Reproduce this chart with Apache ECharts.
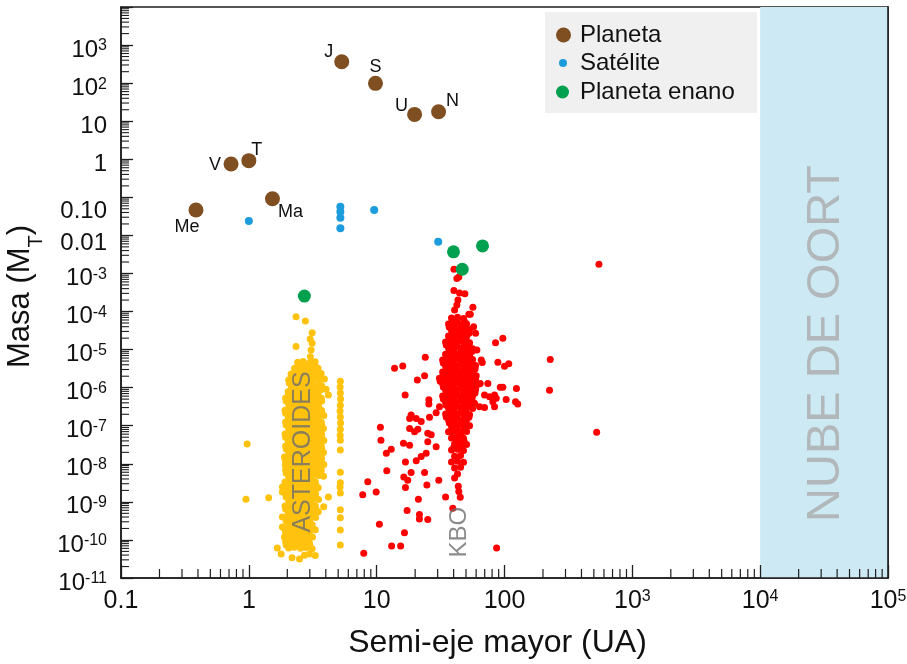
<!DOCTYPE html>
<html>
<head>
<meta charset="utf-8">
<script src="https://cdn.jsdelivr.net/npm/echarts@6/dist/echarts.min.js"></script>
<style>
  html, body { margin: 0; padding: 0; background: #ffffff; }
  #chart { width: 907px; height: 664px; }
</style>
</head>
<body>
<div id="chart"></div>
<script>
// Semi-major axis (AU) vs. mass (Earth masses) of Solar System bodies.

// Planets
const planetNames = ['Me', 'V', 'T', 'Ma', 'J', 'S', 'U', 'N'];
const planetA = [0.386, 0.726, 1.0, 1.53, 5.33, 9.79, 19.8, 30.5];
const planetM = [0.0463, 0.75, 0.92, 0.092, 365, 98.8, 15.1, 17.7];

// Satellites: Moon, Galilean moons, Titan, Triton
const satelliteA = [1.0, 5.2, 5.2, 5.2, 5.2, 9.56, 30.3];
const satelliteM = [0.024, 0.057, 0.042, 0.029, 0.0153, 0.0465, 0.0068];

// Dwarf planets: Ceres, Pluto, Haumea, Eris
const dwarfA = [2.72, 39.9, 46.7, 67.3];
const dwarfM = [2.55e-4, 3.7e-3, 1.29e-3, 5.3e-3];

// Asteroids: [semi-major axis (AU), log10 mass (Earth masses)]
const asteroids = [
  [0.97, -7.48], [0.95, -8.93], [1.43, -8.89], [1.67, -10.21], [1.79, -10.37], [2.18, -10.47],
  [2.49, -10.50], [2.72, -10.40], [2.98, -10.37], [3.31, -10.41],
  [2.34, -4.14], [2.77, -4.25], [3.13, -4.56], [3.02, -4.72], [3.13, -4.83], [2.34, -4.92],
  [3.07, -5.01], [3.03, -5.19], [3.90, -5.77], [4.02, -6.04], [4.19, -6.19],
  [1.83, -9.40], [1.83, -9.66], [1.90, -9.92], [1.83, -8.61], [1.83, -8.74], [1.90, -7.82],
  [1.93, -8.03], [1.97, -8.24], [4.19, -8.87], [3.85, -9.13],
  // Jupiter trojans
  [5.2, -5.83], [5.18, -5.98], [5.2, -6.14], [5.22, -6.30], [5.2, -6.46], [5.17, -6.61],
  [5.2, -6.77], [5.22, -6.93], [5.2, -7.09], [5.18, -7.25], [5.2, -7.38], [5.2, -7.64],
  [5.2, -8.22], [5.2, -8.50], [5.17, -8.61], [5.2, -8.77], [5.2, -9.21], [5.2, -9.42],
  [5.2, -9.74], [5.2, -10.13],
  // main belt
  [2.41, -5.33], [2.66, -5.31], [2.99, -5.35], [3.30, -5.32],
  [2.45, -5.41], [2.71, -5.40], [3.02, -5.42], [3.28, -5.41],
  [2.28, -5.49], [2.52, -5.47], [2.83, -5.50], [3.15, -5.46], [3.48, -5.49],
  [2.30, -5.56], [2.55, -5.57], [2.80, -5.55], [3.17, -5.57], [3.46, -5.56],
  [2.14, -5.64], [2.41, -5.62], [2.68, -5.66], [2.97, -5.63], [3.33, -5.65], [3.68, -5.63],
  [2.16, -5.72], [2.43, -5.71], [2.66, -5.73], [2.99, -5.72], [3.30, -5.71], [3.66, -5.73],
  [2.05, -5.80], [2.26, -5.78], [2.54, -5.81], [2.81, -5.79], [3.13, -5.82], [3.51, -5.80],
  [2.07, -5.88], [2.28, -5.87], [2.52, -5.89], [2.84, -5.88], [3.11, -5.87], [3.53, -5.89],
  [2.16, -5.96], [2.39, -5.94], [2.66, -5.97], [2.99, -5.95], [3.31, -5.98], [3.71, -5.95],
  [2.14, -6.04], [2.41, -6.03], [2.69, -6.05], [2.96, -6.04], [3.34, -6.03], [3.69, -6.05],
  [2.03, -6.11], [2.28, -6.13], [2.52, -6.10], [2.83, -6.12], [3.15, -6.11], [3.49, -6.13],
  [2.05, -6.19], [2.26, -6.20], [2.55, -6.18], [2.80, -6.19], [3.17, -6.20], [3.47, -6.19],
  [1.94, -6.27], [2.16, -6.25], [2.41, -6.28], [2.66, -6.26], [2.97, -6.29], [3.33, -6.26], [3.69, -6.28],
  [1.96, -6.35], [2.14, -6.34], [2.43, -6.36], [2.69, -6.35], [2.99, -6.34], [3.30, -6.36], [3.71, -6.35],
  [2.05, -6.43], [2.26, -6.41], [2.54, -6.44], [2.81, -6.42], [3.13, -6.45], [3.51, -6.43],
  [2.07, -6.51], [2.28, -6.50], [2.52, -6.52], [2.84, -6.51], [3.11, -6.50], [3.53, -6.52],
  [1.92, -6.59], [2.16, -6.57], [2.39, -6.60], [2.68, -6.58], [2.99, -6.61], [3.31, -6.58], [3.71, -6.60],
  [1.94, -6.67], [2.14, -6.66], [2.41, -6.68], [2.66, -6.67], [2.96, -6.66], [3.34, -6.68], [3.69, -6.67],
  [2.03, -6.74], [2.28, -6.76], [2.52, -6.73], [2.83, -6.75], [3.15, -6.74], [3.49, -6.76], [3.86, -6.73],
  [2.05, -6.82], [2.26, -6.83], [2.55, -6.81], [2.80, -6.82], [3.17, -6.83], [3.47, -6.82],
  [1.94, -6.90], [2.14, -6.88], [2.41, -6.91], [2.66, -6.89], [2.97, -6.92], [3.33, -6.89], [3.69, -6.91],
  [1.96, -6.98], [2.16, -6.97], [2.39, -6.99], [2.69, -6.98], [2.99, -6.97], [3.30, -6.99], [3.71, -6.98],
  [2.05, -7.06], [2.26, -7.04], [2.54, -7.07], [2.81, -7.05], [3.13, -7.08], [3.51, -7.05], [3.84, -7.07],
  [2.07, -7.14], [2.28, -7.13], [2.52, -7.15], [2.84, -7.14], [3.11, -7.13], [3.53, -7.15],
  [1.92, -7.22], [2.16, -7.20], [2.39, -7.23], [2.68, -7.21], [2.99, -7.24], [3.31, -7.21], [3.71, -7.23],
  [1.94, -7.30], [2.14, -7.29], [2.41, -7.31], [2.66, -7.30], [2.96, -7.29], [3.34, -7.31], [3.69, -7.30],
  [2.03, -7.38], [2.28, -7.36], [2.52, -7.39], [2.83, -7.37], [3.15, -7.40], [3.49, -7.37], [3.86, -7.39],
  [2.05, -7.46], [2.26, -7.47], [2.55, -7.45], [2.80, -7.46], [3.17, -7.47], [3.47, -7.46],
  [1.94, -7.53], [2.14, -7.51], [2.41, -7.54], [2.66, -7.52], [2.97, -7.55], [3.33, -7.52], [3.69, -7.54],
  [1.96, -7.61], [2.16, -7.60], [2.39, -7.62], [2.69, -7.61], [2.99, -7.60], [3.30, -7.62], [3.71, -7.61],
  [2.05, -7.69], [2.26, -7.67], [2.54, -7.70], [2.81, -7.68], [3.13, -7.71], [3.51, -7.68], [3.84, -7.70],
  [2.07, -7.77], [2.28, -7.76], [2.52, -7.78], [2.84, -7.77], [3.11, -7.76], [3.53, -7.78],
  [1.92, -7.85], [2.16, -7.83], [2.39, -7.86], [2.68, -7.84], [2.99, -7.87], [3.31, -7.84], [3.71, -7.86],
  [1.94, -7.93], [2.14, -7.92], [2.41, -7.94], [2.66, -7.93], [2.96, -7.92], [3.34, -7.94],
  [2.03, -8.01], [2.28, -7.99], [2.52, -8.02], [2.83, -8.00], [3.15, -8.03], [3.49, -8.00], [3.86, -8.02],
  [2.05, -8.09], [2.26, -8.10], [2.55, -8.08], [2.80, -8.09], [3.17, -8.10], [3.47, -8.09],
  [1.94, -8.16], [2.14, -8.14], [2.41, -8.17], [2.66, -8.15], [2.97, -8.18], [3.33, -8.15], [3.69, -8.17],
  [1.96, -8.24], [2.16, -8.23], [2.39, -8.25], [2.69, -8.24], [2.99, -8.23], [3.30, -8.25],
  [2.05, -8.32], [2.26, -8.30], [2.54, -8.33], [2.81, -8.31], [3.13, -8.34], [3.51, -8.31], [3.84, -8.33],
  [2.07, -8.40], [2.28, -8.39], [2.52, -8.41], [2.84, -8.40], [3.11, -8.39],
  [1.92, -8.48], [2.16, -8.46], [2.39, -8.49], [2.68, -8.47], [2.99, -8.50], [3.31, -8.47],
  [1.94, -8.56], [2.14, -8.55], [2.41, -8.57], [2.66, -8.56], [2.96, -8.55], [3.34, -8.57],
  [2.03, -8.64], [2.28, -8.62], [2.52, -8.65], [2.83, -8.63], [3.15, -8.66], [3.49, -8.63],
  [2.05, -8.72], [2.26, -8.73], [2.55, -8.71], [2.80, -8.72], [3.17, -8.73],
  [1.94, -8.79], [2.14, -8.77], [2.41, -8.80], [2.66, -8.78], [2.97, -8.81], [3.33, -8.78],
  [1.96, -8.87], [2.16, -8.86], [2.39, -8.88], [2.69, -8.87], [2.99, -8.86], [3.30, -8.88],
  [2.05, -8.95], [2.26, -8.93], [2.54, -8.96], [2.81, -8.94], [3.13, -8.97], [3.51, -8.94],
  [2.07, -9.03], [2.28, -9.02], [2.52, -9.04], [2.84, -9.03], [3.11, -9.02],
  [1.92, -9.11], [2.16, -9.09], [2.39, -9.12], [2.68, -9.10], [2.99, -9.13], [3.31, -9.10],
  [1.94, -9.19], [2.14, -9.18], [2.41, -9.20], [2.66, -9.19], [2.96, -9.18], [3.34, -9.20],
  [2.03, -9.27], [2.28, -9.25], [2.52, -9.28], [2.83, -9.26], [3.15, -9.29], [3.49, -9.26],
  [2.05, -9.35], [2.26, -9.36], [2.55, -9.34], [2.80, -9.35], [3.17, -9.36],
  [1.94, -9.42], [2.14, -9.40], [2.41, -9.43], [2.66, -9.41], [2.97, -9.44], [3.33, -9.41],
  [1.96, -9.50], [2.16, -9.49], [2.39, -9.51], [2.69, -9.50], [2.99, -9.49],
  [2.05, -9.58], [2.26, -9.56], [2.54, -9.59], [2.81, -9.57], [3.13, -9.60],
  [2.07, -9.66], [2.28, -9.65], [2.52, -9.67], [2.84, -9.66], [3.11, -9.65],
  [1.92, -9.74], [2.16, -9.72], [2.39, -9.75], [2.68, -9.73], [2.99, -9.76], [3.31, -9.73],
  [1.94, -9.82], [2.14, -9.81], [2.41, -9.83], [2.66, -9.82], [2.96, -9.81],
  [2.03, -9.90], [2.28, -9.88], [2.52, -9.91], [2.83, -9.89], [3.15, -9.92],
  [2.05, -9.98], [2.26, -9.99], [2.55, -9.97], [2.80, -9.98],
  [1.94, -10.05], [2.14, -10.03], [2.41, -10.06], [2.66, -10.04], [2.97, -10.07],
  [1.96, -10.13], [2.16, -10.12], [2.39, -10.14], [2.69, -10.13], [2.99, -10.12],
  [2.05, -10.21], [2.26, -10.19], [2.54, -10.22], [2.81, -10.20], [3.13, -10.23]
];

// Kuiper belt objects: [semi-major axis (AU), log10 mass (Earth masses)]
const kbos = [
  [40.2, -2.89], [42.4, -3.13], [43.9, -3.09], [40.2, -3.45], [44.5, -3.51], [49.0, -3.53],
  [43.2, -3.70], [42.4, -3.83], [40.7, -3.96], [52.6, -4.07], [56.6, -3.89], [57.3, -4.40],
  [24.0, -5.20], [16.0, -5.43], [13.8, -5.49], [20.8, -5.80], [23.7, -5.69], [16.7, -6.19],
  [25.6, -6.32], [25.6, -6.43], [31.0, -6.50], [32.9, -5.71], [33.9, -5.89],
  [548, -2.76], [54.0, -4.07], [59.4, -4.57], [85.1, -4.82], [97.1, -4.70], [228, -5.26],
  [88.8, -5.33], [100, -5.44], [108, -5.37], [60.8, -5.01], [65.8, -5.27], [67.0, -5.34],
  [60.1, -5.69], [64.6, -5.89], [74.1, -5.89], [92.7, -5.99], [97.1, -5.99], [124, -6.02],
  [225, -6.07], [69.8, -6.19], [76.4, -6.24], [83.6, -6.19], [86.2, -6.28], [103, -6.31],
  [122, -6.37], [127, -6.43], [63.8, -6.50], [69.8, -6.52], [83.6, -6.50], [58.3, -6.41],
  [81.1, -6.37], [526, -7.17],
  [29.2, -6.66], [25.9, -6.78], [18.6, -6.72], [20.4, -6.81], [18.1, -6.81], [22.3, -6.89],
  [10.7, -7.04], [18.1, -7.07], [21.0, -7.09], [19.8, -7.16], [25.1, -7.20], [26.7, -7.24],
  [10.8, -7.38], [25.1, -7.42], [16.2, -7.46], [18.1, -7.51], [29.2, -7.55], [13.0, -7.62],
  [11.9, -7.72], [24.4, -7.72], [22.3, -7.81], [20.4, -7.92], [16.8, -7.95], [12.0, -8.18],
  [18.6, -8.23], [23.7, -8.23], [16.3, -8.35], [17.5, -8.43], [30.6, -8.43], [8.52, -8.47],
  [24.7, -8.56], [16.8, -8.62], [9.91, -8.74], [7.78, -8.81], [34.6, -8.87], [40.7, -8.37],
  [43.9, -8.73], [45.1, -8.88], [21.2, -8.93], [17.3, -9.23], [39.4, -9.17], [21.6, -9.33],
  [21.6, -9.45], [25.1, -9.46], [10.5, -9.59], [16.5, -9.81], [13.1, -10.16], [15.4, -10.16],
  [7.92, -10.35], [86.7, -10.21],
  // classical belt
  [38.5, -4.17], [42.9, -4.15], [47.8, -4.18],
  [39.0, -4.25], [42.4, -4.26], [48.3, -4.24],
  [36.5, -4.33], [40.7, -4.31], [45.3, -4.34], [50.5, -4.32],
  [37.0, -4.41], [40.2, -4.42], [45.8, -4.40], [50.0, -4.41],
  [38.5, -4.49], [42.9, -4.47], [47.8, -4.50], [53.3, -4.48],
  [39.0, -4.57], [42.4, -4.58], [48.3, -4.56], [52.7, -4.57],
  [36.5, -4.64], [40.7, -4.66], [45.3, -4.63], [50.5, -4.65],
  [37.0, -4.72], [40.2, -4.73], [45.8, -4.71], [50.0, -4.72],
  [34.6, -4.80], [38.5, -4.78], [42.9, -4.81], [47.8, -4.79], [53.3, -4.82],
  [35.0, -4.88], [39.0, -4.89], [42.4, -4.87], [48.3, -4.88], [52.7, -4.89],
  [36.5, -4.96], [40.7, -4.94], [45.3, -4.97], [50.5, -4.95], [56.3, -4.98],
  [37.0, -5.04], [40.2, -5.05], [45.8, -5.03], [50.0, -5.04], [55.7, -5.05],
  [34.6, -5.12], [38.5, -5.10], [42.9, -5.13], [47.8, -5.11], [53.3, -5.14],
  [35.0, -5.20], [39.0, -5.21], [42.4, -5.19], [48.3, -5.20], [52.7, -5.21],
  [32.8, -5.27], [36.5, -5.25], [40.7, -5.28], [45.3, -5.26], [50.5, -5.29], [56.3, -5.26],
  [33.2, -5.35], [37.0, -5.36], [40.2, -5.34], [45.8, -5.35], [50.0, -5.36], [55.7, -5.35],
  [34.6, -5.43], [38.5, -5.41], [42.9, -5.44], [47.8, -5.42], [53.3, -5.45], [59.4, -5.42],
  [35.0, -5.51], [39.0, -5.52], [42.4, -5.50], [48.3, -5.51], [52.7, -5.52], [58.8, -5.51],
  [32.8, -5.59], [36.5, -5.57], [40.7, -5.60], [45.3, -5.58], [50.5, -5.61], [56.3, -5.58],
  [33.2, -5.67], [37.0, -5.68], [40.2, -5.66], [45.8, -5.67], [50.0, -5.68], [55.7, -5.67],
  [31.0, -5.75], [34.6, -5.73], [38.5, -5.76], [42.9, -5.74], [47.8, -5.77], [53.3, -5.74], [59.4, -5.76],
  [31.4, -5.83], [35.0, -5.84], [39.0, -5.82], [42.4, -5.83], [48.3, -5.84], [52.7, -5.83], [58.8, -5.82],
  [32.8, -5.90], [36.5, -5.88], [40.7, -5.91], [45.3, -5.89], [50.5, -5.92], [56.3, -5.89], [62.7, -5.91],
  [33.2, -5.98], [37.0, -5.99], [40.2, -5.97], [45.8, -5.98], [50.0, -5.99], [55.7, -5.98],
  [34.6, -6.06], [38.5, -6.04], [42.9, -6.07], [47.8, -6.05], [53.3, -6.08], [59.4, -6.05],
  [35.0, -6.14], [39.0, -6.15], [42.4, -6.13], [48.3, -6.14], [52.7, -6.15], [58.8, -6.14],
  [32.8, -6.22], [36.5, -6.20], [40.7, -6.23], [45.3, -6.21], [50.5, -6.24], [56.3, -6.21],
  [33.2, -6.30], [37.0, -6.31], [40.2, -6.29], [45.8, -6.30], [50.0, -6.31], [55.7, -6.30],
  [34.6, -6.38], [38.5, -6.36], [42.9, -6.39], [47.8, -6.37], [53.3, -6.40],
  [35.0, -6.46], [39.0, -6.47], [42.4, -6.45], [48.3, -6.46], [52.7, -6.47],
  [36.5, -6.53], [40.7, -6.51], [45.3, -6.54], [50.5, -6.52], [56.3, -6.55],
  [37.0, -6.61], [40.2, -6.62], [45.8, -6.60], [50.0, -6.61],
  [34.6, -6.69], [38.5, -6.67], [42.9, -6.70], [47.8, -6.68], [53.3, -6.71],
  [35.0, -6.77], [39.0, -6.78], [42.4, -6.76], [48.3, -6.77], [52.7, -6.78],
  [36.5, -6.85], [40.7, -6.83], [45.3, -6.86], [50.5, -6.84],
  [37.0, -6.93], [40.2, -6.94], [45.8, -6.92], [50.0, -6.93],
  [38.5, -7.01], [42.9, -6.99], [47.8, -7.02], [53.3, -7.00],
  [39.0, -7.09], [42.4, -7.10], [48.3, -7.08],
  [36.5, -7.16], [40.7, -7.14], [45.3, -7.17], [50.5, -7.15],
  [40.2, -7.24], [45.8, -7.25],
  [38.5, -7.32], [42.9, -7.30], [47.8, -7.33],
  [42.4, -7.40], [48.3, -7.41],
  [40.7, -7.48], [45.3, -7.46], [50.5, -7.49],
  [40.2, -7.56], [45.8, -7.57],
  [38.5, -7.64], [42.9, -7.62], [47.8, -7.65],
  [40.7, -7.80], [45.3, -7.78],
  [38.5, -7.95], [42.9, -7.93], [47.8, -7.96],
  [40.7, -8.11], [45.3, -8.09],
  [42.9, -8.27], [43.5, -8.59]
];

// Region captions and where they sit (AU, Earth masses)
const regionNames = ['ASTEROIDES', 'KBO', 'NUBE DE OORT'];
const regionA = [2.67, 44.5, 3.3e4];
const regionM = [2.04e-8, 1.6e-10, 1.45e-5];

// Oort cloud span (AU)
const oortSpan = [1e4, 1e5];

// Axis extents and decade ticks
const X_MIN = 0.1, X_MAX = 1e5;
const Y_MIN = 1e-11, Y_MAX = 1e4;
const xDecades = [0.1, 1, 10, 100, 1e3, 1e4, 1e5];
const yDecades = [1e-11, 1e-10, 1e-9, 1e-8, 1e-7, 1e-6, 1e-5, 1e-4, 1e-3, 0.01, 0.1, 1, 10, 100, 1e3, 1e4];
const yLabelDecades = yDecades.slice(0, -1);

// Minor tick values (2..9 x each decade)
function minorTicks(decades) {
  const out = [];
  for (let i = 0; i < decades.length - 1; i++) {
    for (let k = 2; k <= 9; k++) out.push(k * decades[i]);
  }
  return out;
}
const xMinor = minorTicks(xDecades);
const yMinor = minorTicks(yDecades);

const FONT = "'Liberation Sans', Arial, sans-serif";
const AXIS_COLOR = '#1e1e1e';

const planetLabelOffset = {
  Me: [-9, 17], V: [-16, 1], T: [8, -11], Ma: [18, 13],
  J: [-13, -10], S: [0, -16], U: [-13, -8], N: [14, -11]
};
const regionStyle = [
  { fontSize: 25, color: '#6e6e6e' },
  { fontSize: 24, color: '#6e6e6e' },
  { fontSize: 47, color: '#ababab' }
];

const logPairs = arr => arr.map(([a, lg]) => [a, Math.pow(10, lg)]);
const zip = (xs, ys) => xs.map((x, i) => [x, ys[i]]);

function yLabel(v) {
  const e = Math.round(Math.log10(v));
  if (e >= 4) return '';
  if (e === 1) return '10';
  if (e === 0) return '1';
  if (e === -1) return '{lo|0.10}';
  if (e === -2) return '{mid|0.01}';
  return '10{sup|' + e + '}';
}
function xLabel(v) {
  const e = Math.round(Math.log10(v));
  if (e === -1) return '0.1';
  if (e === 0) return '1';
  if (e === 1) return '10';
  if (e === 2) return '100';
  return '10{sup|' + e + '}';
}
const labelRich = {
  sup: { fontSize: 16, fontFamily: FONT, color: '#111', verticalAlign: 'top', lineHeight: 16 },
  lo: { fontSize: 24, fontFamily: FONT, color: '#111', padding: [18, 0, 0, 0] },
  mid: { fontSize: 24, fontFamily: FONT, color: '#111', padding: [6, 0, 0, 0] }
};

const chart = echarts.init(document.getElementById('chart'), null, { renderer: 'canvas' });

const option = {
  animation: false,
  backgroundColor: '#ffffff',
  textStyle: { fontFamily: FONT },
  grid: {
    left: 121, right: 19, top: 7, bottom: 86,
    containLabel: false,
    outerBoundsMode: 'none',
    show: true, borderColor: AXIS_COLOR, borderWidth: 1.5, backgroundColor: 'transparent'
  },
  graphic: [{
    type: 'rect', z: 5,
    shape: { x: 545, y: 12, width: 212, height: 101 },
    style: { fill: '#f0f0f0' }
  }],
  legend: [
    { data: ['Planeta'], left: 556, top: 23, padding: 0, itemWidth: 15, itemHeight: 15, icon: 'circle', z: 10,
      textStyle: { fontSize: 24, fontFamily: FONT, color: '#111', lineHeight: 24, padding: [0, 0, 0, 4] } },
    { data: ['Satélite'], left: 559, top: 51, padding: 0, itemWidth: 8, itemHeight: 8, icon: 'circle', z: 10,
      textStyle: { fontSize: 24, fontFamily: FONT, color: '#111', lineHeight: 24, padding: [0, 0, 0, 8] } },
    { data: ['Planeta enano'], left: 556, top: 80, padding: 0, itemWidth: 13, itemHeight: 13, icon: 'circle', z: 10,
      textStyle: { fontSize: 24, fontFamily: FONT, color: '#111', lineHeight: 24, padding: [0, 0, 0, 6] } }
  ],
  xAxis: [{
    type: 'log', logBase: 10, min: X_MIN, max: X_MAX, splitNumber: 6, z: 10,
    name: 'Semi-eje mayor (UA)', nameLocation: 'middle', nameGap: 49,
    nameTextStyle: { fontSize: 32, fontFamily: FONT, color: '#111', padding: [0, 14, 0, 0] },
    axisLine: { show: true, onZero: false, lineStyle: { color: AXIS_COLOR, width: 1.6 } },
    axisTick: { show: true, inside: true, length: 13, customValues: xDecades,
                lineStyle: { color: AXIS_COLOR, width: 1.3 } },
    axisLabel: {
      show: true, interval: 0, showMinLabel: true, showMaxLabel: true, hideOverlap: false, margin: 11,
      customValues: xDecades,
      fontSize: 25, fontFamily: FONT, color: '#111', formatter: xLabel, rich: labelRich
    },
    splitLine: { show: false }, minorTick: { show: false }
  }],
  yAxis: [{
    type: 'log', logBase: 10, min: Y_MIN, max: Y_MAX, splitNumber: 15, z: 10,
    name: 'Masa (M{sub|T})', nameLocation: 'middle', nameGap: 69, nameRotate: 90,
    nameTextStyle: {
      fontSize: 31, fontFamily: FONT, color: '#111', padding: [0, 8, 0, 0],
      rich: { sub: { fontSize: 20, fontFamily: FONT, color: '#111', verticalAlign: 'bottom', lineHeight: 20, padding: [0, 0, -10, 0] } }
    },
    axisLine: { show: true, onZero: false, lineStyle: { color: AXIS_COLOR, width: 1.6 } },
    axisTick: { show: true, inside: true, length: 12, customValues: yDecades,
                lineStyle: { color: AXIS_COLOR, width: 1.3 } },
    axisLabel: {
      show: true, interval: 0, showMinLabel: true, showMaxLabel: true, hideOverlap: false, margin: 14,
      customValues: yLabelDecades,
      fontSize: 24, fontFamily: FONT, color: '#111', formatter: yLabel, rich: labelRich,
      padding: [10, 0, 0, 0]
    },
    splitLine: { show: false }, minorTick: { show: false }
  }, {
    type: 'log', logBase: 10, min: Y_MIN, max: Y_MAX, position: 'right', z: 10,
    axisLine: { show: true, onZero: false, lineStyle: { color: AXIS_COLOR, width: 1.6 } },
    axisTick: { show: false }, axisLabel: { show: false }, splitLine: { show: false }
  }],
  series: [
    {
      name: 'oort', type: 'scatter', data: [], silent: true, z: 1,
      markArea: {
        silent: true,
        itemStyle: { color: '#cce9f4', opacity: 1 },
        data: [[{ xAxis: oortSpan[0] }, { xAxis: oortSpan[1] }]]
      }
    },
    {
      name: 'asteroides', type: 'scatter', symbolSize: 7, z: 3, silent: true,
      itemStyle: { color: '#ffc20e', opacity: 1 },
      data: logPairs(asteroids)
    },
    {
      name: 'kbo', type: 'scatter', symbolSize: 7, z: 3, silent: true,
      itemStyle: { color: '#ff0000', opacity: 1 },
      data: logPairs(kbos)
    },
    {
      name: 'regiones', type: 'scatter', symbolSize: 0, z: 4, silent: true,
      data: regionNames.map((n, i) => ({
        name: n, value: [regionA[i], regionM[i]],
        label: {
          show: true, position: 'inside', rotate: 90, formatter: n,
          fontSize: regionStyle[i].fontSize, color: regionStyle[i].color, fontFamily: FONT,
          align: 'center', verticalAlign: 'middle'
        }
      }))
    },
    {
      name: 'Satélite', type: 'scatter', symbolSize: 8, z: 5,
      itemStyle: { color: '#1c9cdc', opacity: 1 },
      data: zip(satelliteA, satelliteM)
    },
    {
      name: 'Planeta enano', type: 'scatter', symbolSize: 13, z: 6,
      itemStyle: { color: '#00a04f', opacity: 1 },
      data: zip(dwarfA, dwarfM)
    },
    {
      name: 'Planeta', type: 'scatter', symbolSize: 15, z: 6,
      itemStyle: { color: '#7f4f21', opacity: 1 },
      label: { show: true, position: 'inside', fontSize: 18, fontFamily: FONT, color: '#111',
               formatter: p => p.name },
      data: planetNames.map((n, i) => ({
        name: n, value: [planetA[i], planetM[i]],
        label: { offset: planetLabelOffset[n] }
      }))
    },
    {
      name: 'xMinor', type: 'custom', silent: true, clip: false, z: 11,
      encode: { x: 0, y: 1 },
      data: xMinor.map(v => [v, Y_MIN]),
      renderItem: (params, api) => {
        const p = api.coord([api.value(0), api.value(1)]);
        return { type: 'line', shape: { x1: p[0], y1: p[1], x2: p[0], y2: p[1] - 9 },
                 style: { stroke: AXIS_COLOR, lineWidth: 1.2 } };
      }
    },
    {
      name: 'yMinor', type: 'custom', silent: true, clip: false, z: 11,
      encode: { x: 0, y: 1 },
      data: yMinor.map(v => [X_MIN, v]),
      renderItem: (params, api) => {
        const p = api.coord([api.value(0), api.value(1)]);
        return { type: 'line', shape: { x1: p[0], y1: p[1], x2: p[0] + 8, y2: p[1] },
                 style: { stroke: AXIS_COLOR, lineWidth: 1.1 } };
      }
    }
  ]
};

chart.setOption(option);
</script>
</body>
</html>
